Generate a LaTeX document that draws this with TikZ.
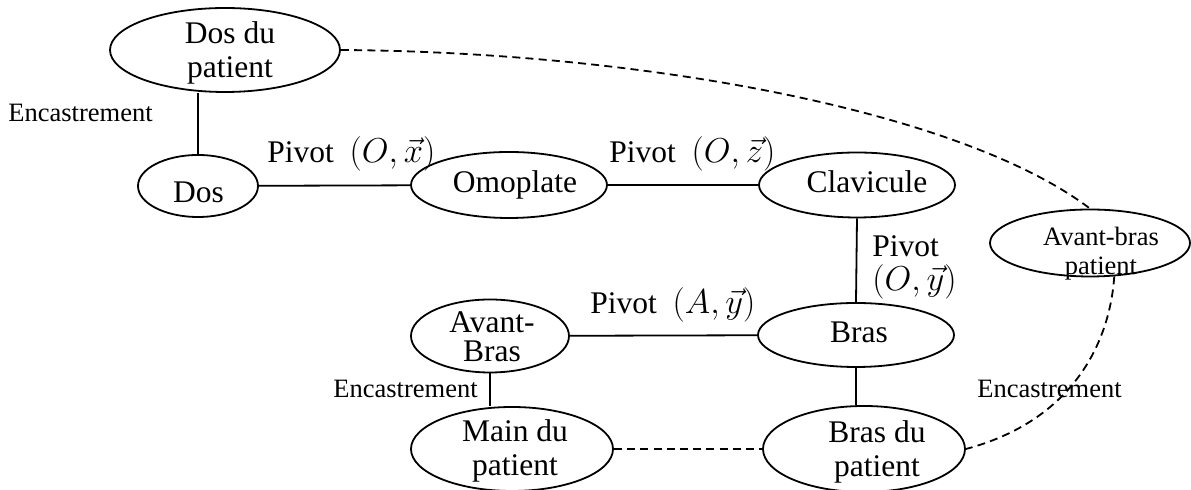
\documentclass[tikz,border=0pt]{standalone}
\usepackage{fontspec}
\setmainfont{Liberation Serif}
\usetikzlibrary{shapes.geometric}
\newcommand\mymath[1]{{\fontsize{17.28}{17}\selectfont$#1$}}
\begin{document}
\begin{tikzpicture}[x=0.5pt,y=-0.5pt,
  part/.style={draw, ellipse, line width=0.9pt, inner sep=0pt},
  lbl/.style={inner sep=0pt, font=\fontsize{15.75}{17}\selectfont},
  small/.style={inner sep=0pt, font=\fontsize{13.25}{14.5}\selectfont},
  link/.style={line width=0.9pt},
  dlink/.style={line width=0.9pt, dash pattern=on 4pt off 2.6pt}]
\useasboundingbox (0,0) rectangle (1191,490);
% ellipses
\node[part, minimum width=115pt, minimum height=42pt] (dospat) at (225,50) {};
\node[part, minimum width=60pt, minimum height=31pt] (dos) at (198,186) {};
\node[part, minimum width=98pt, minimum height=33pt] (omo) at (509,185) {};
\node[part, minimum width=98pt, minimum height=32.5pt] (clav) at (857,185) {};
\node[part, minimum width=100pt, minimum height=33.5pt] (avbp) at (1090,243) {};
\node[part, minimum width=79pt, minimum height=36.5pt] (avb) at (490,336) {};
\node[part, minimum width=98pt, minimum height=32pt] (bras) at (856,335) {};
\node[part, minimum width=101pt, minimum height=42pt] (main) at (512,449) {};
\node[part, minimum width=101pt, minimum height=43pt] (braspat) at (864,449) {};
% texts in ellipses
\node[lbl, align=center] (tdospat) at (230,53) {Dos du\\patient};
\node[lbl, anchor=base] (tdos) at (198.5,203) {Dos};
\node[lbl, anchor=base] (tomo) at (515,193) {Omoplate};
\node[lbl, anchor=base] (tclav) at (867,193) {Clavicule};
\node[lbl, anchor=base] (tbras) at (859,343) {Bras};
\node[small, align=center] (tavbp) at (1101,253.3) {Avant-bras\\patient};
\node[lbl, align=center, font=\fontsize{15.75}{14.5}\selectfont] (tavb) at (492,337) {Avant-\\Bras};
\node[lbl, align=center] (tmain) at (515,451) {Main du\\patient};
\node[lbl, align=center] (tbraspat) at (877,452) {Bras du\\patient};
% connectors
\draw[link] (dos.north) -- (dos.north |- dospat.south);
\draw[link] (dos) -- (omo);
\draw[link] (omo) -- (clav);
\draw[link] (clav.south) -- (bras.north);
\draw[link] (avb) -- (bras);
\draw[link] (avb.south) -- (avb.south |- main.north);
\draw[link] (bras.south) -- (bras.south |- braspat.north);
\draw[dlink] (main) -- (braspat);
\draw[dlink] (dospat.east) .. controls (640,52) and (960,110) .. (avbp.north);
\draw[dlink] (avbp.-54) .. controls (1110,340) and (1075,420) .. (braspat.east);
% joint labels
\node[small, anchor=base west] (e1) at (8,122) {Encastrement};
\node[lbl, anchor=base west] (p1) at (267,163) {Pivot\ \ \mymath{(O,\vec{x})}};
\node[lbl, anchor=base west] (p2) at (609,163) {Pivot\ \ \mymath{(O,\vec{z})}};
\node[lbl, align=left, anchor=west] (p3) at (872,267) {Pivot\\\mymath{(O,\vec{y})}};
\node[lbl, anchor=base west] (p4) at (590,314) {Pivot\ \ \mymath{(A,\vec{y})}};
\node[small, anchor=base west] (e2) at (333,398) {Encastrement};
\node[small, anchor=base west] (e3) at (977,398) {Encastrement};
\end{tikzpicture}
\end{document}
